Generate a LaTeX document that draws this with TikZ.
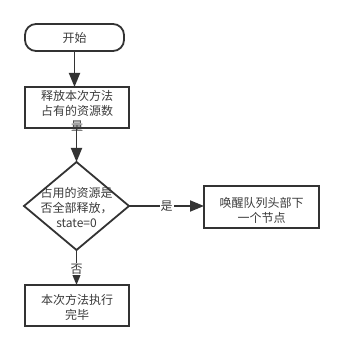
\documentclass[tikz,border=0pt]{standalone}
\usepackage{fontspec}
\setmainfont{Noto Sans CJK SC}
\usetikzlibrary{arrows.meta,shapes.geometric}
\definecolor{ln}{HTML}{333333}
\definecolor{tx}{HTML}{3A3A3A}
\begin{document}
\begin{tikzpicture}[x=1pt,y=-1pt,
  shp/.style={draw=ln,line width=1.8pt,inner sep=0pt,outer sep=0pt},
  txt/.style={inner sep=0pt,text=tx,align=center,font=\fontsize{12pt}{15pt}\selectfont},
  conn/.style={draw=ln,line width=1.8pt,-{Triangle[length=14pt,width=11pt]}},
  lbl/.style={fill=white,inner sep=1pt,text=tx,font=\fontsize{12pt}{15pt}\selectfont}]
\useasboundingbox (0,0) rectangle (343,352);
\node[shp,rounded corners=11pt,minimum width=99pt,minimum height=27pt] (start) at (74.5,37.5) {};
\node[txt] at (start) {开始};
\node[shp,minimum width=104pt,minimum height=41pt] (rel) at (77,107.5) {};
\node[txt] at (77,110.5) {释放本次方法\\占有的资源数\\量};
\node[shp,diamond,minimum width=105pt,minimum height=88pt] (dec) at (76.5,206) {};
\node[txt] at (76.5,208) {占用的资源是\\否全部释放，\\state=0};
\node[shp,minimum width=115pt,minimum height=42pt] (wake) at (261.5,207) {};
\node[txt] at (261.5,210) {唤醒队列头部下\\一个节点};
\node[shp,minimum width=104pt,minimum height=41pt] (done) at (77,305.5) {};
\node[txt] at (77,307.5) {本次方法执行\\完毕};
\draw[conn] (start.south) -- (start.south |- rel.north);
\draw[conn] (rel.south -| dec.north) -- (dec.north);
\draw[conn] (dec.east) -- (wake.west |- dec.east) node[lbl,pos=0.5] {是};
\draw[conn] (dec.south) -- (dec.south |- done.north) node[lbl,pos=0.55] {否};
\end{tikzpicture}
\end{document}
